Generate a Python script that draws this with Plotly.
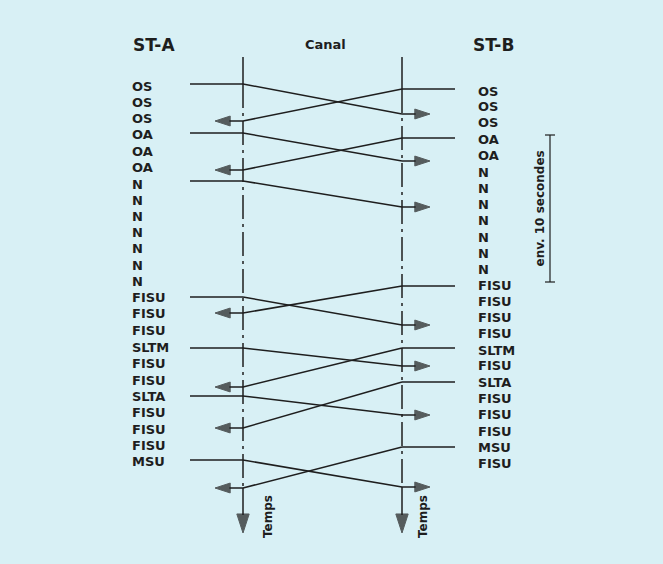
import plotly.graph_objects as go

# ---------------- data (times, in pixel-like time units) ----------------
labels_A = ["OS", "OS", "OS", "OA", "OA", "OA", "N", "N", "N", "N", "N", "N", "N",
            "FISU", "FISU", "FISU", "SLTM", "FISU", "FISU", "SLTA", "FISU", "FISU", "FISU", "MSU"]
times_A = [86, 102, 118, 134, 151, 167, 184, 200, 216, 232, 248, 265, 281,
           297, 313, 330, 347, 363, 380, 396, 412, 429, 445, 461]

labels_B = ["OS", "OS", "OS", "OA", "OA", "N", "N", "N", "N", "N", "N", "N",
            "FISU", "FISU", "FISU", "FISU", "SLTM", "FISU", "SLTA", "FISU", "FISU", "FISU", "MSU", "FISU"]
times_B = [91, 106, 122, 139, 155, 172, 188, 204, 220, 237, 253, 269,
           285, 301, 317, 333, 350, 365, 382, 398, 414, 431, 447, 463]

# messages A -> B : send time, receive time
ab_send = [84, 133, 181, 297, 348, 396, 460]
ab_recv = [114, 161, 207, 325, 366, 415, 487]
# messages B -> A : send time, receive time
ba_send = [89, 138, 286, 348, 382, 447]
ba_recv = [121, 170, 313, 387, 428, 488]

bracket_start, bracket_end = 135, 282
time_top, time_end = 57, 533

# ---------------- layout constants ----------------
W, H = 663, 564
XA, XB = 243, 402          # lanes
XA_OUT, XB_OUT = 190, 455  # outer start of message lines
XA_TIP, XB_TIP = 215, 430  # arrow tips
LBL_A, LBL_B = 130, 476
BR_X = 550

INK = "#1e1e1e"
BG = "#d8f0f5"
FONT = "DejaVu Sans, Verdana, sans-serif"
LW = 1.5

fig = go.Figure()

def msg(xs, ys):
    n = len(xs)
    fig.add_trace(go.Scatter(
        x=xs, y=ys, mode="lines+markers",
        line=dict(color=INK, width=LW),
        marker=dict(symbol="arrow", size=[0] * (n - 1) + [16], color=INK,
                    angleref="previous", line=dict(width=1, color=INK)),
        hoverinfo="skip", showlegend=False))

for s, r in zip(ab_send, ab_recv):
    msg([XA_OUT, XA, XB, XB_TIP], [s, s, r, r])
for s, r in zip(ba_send, ba_recv):
    msg([XB_OUT, XB, XA, XA_TIP], [s, s, r, r])

# lanes
def lane(x, events):
    first, last = min(events), max(events)
    fig.add_trace(go.Scatter(x=[x, x], y=[time_top, first], mode="lines",
                             line=dict(color=INK, width=LW), hoverinfo="skip", showlegend=False))
    fig.add_trace(go.Scatter(x=[x, x], y=[first, last], mode="lines",
                             line=dict(color=INK, width=LW, dash="24px,5px,3px,5px"),
                             hoverinfo="skip", showlegend=False))
    fig.add_trace(go.Scatter(x=[x, x], y=[last, time_end], mode="lines+markers",
                             line=dict(color=INK, width=LW),
                             marker=dict(symbol="arrow", size=[0, 20], color=INK,
                                         angleref="previous", line=dict(width=1, color=INK)),
                             hoverinfo="skip", showlegend=False))

lane(XA, ab_send + ba_recv)
lane(XB, ba_send + ab_recv)

# bracket "env. 10 secondes"
fig.add_trace(go.Scatter(x=[BR_X, BR_X], y=[bracket_start, bracket_end], mode="lines",
                         line=dict(color=INK, width=1.2), hoverinfo="skip", showlegend=False))
for yb in (bracket_start, bracket_end):
    fig.add_trace(go.Scatter(x=[BR_X - 5, BR_X + 5], y=[yb, yb], mode="lines",
                             line=dict(color=INK, width=1.2), hoverinfo="skip", showlegend=False))

ann = []
def txt(x, y, t, size=13, xanchor="left", angle=0):
    ann.append(dict(x=x, y=y, text=t, showarrow=False, xanchor=xanchor, yanchor="middle",
                    textangle=angle, xref="x", yref="y",
                    font=dict(family=FONT, size=size, color=INK, weight="bold")))

for t, y in zip(labels_A, times_A):
    txt(LBL_A, y, t)
for t, y in zip(labels_B, times_B):
    txt(LBL_B, y, t)

txt(154, 45, "ST-A", size=17, xanchor="center")
txt(325, 44, "Canal", size=13, xanchor="center")
txt(493, 45, "ST-B", size=17, xanchor="center")
txt(268, 517, "Temps", size=12, xanchor="center", angle=-90)
txt(423, 517, "Temps", size=12, xanchor="center", angle=-90)
txt(539, (bracket_start + bracket_end) / 2, "env. 10 secondes", size=12, xanchor="center", angle=-90)

fig.update_layout(
    width=W, height=H, margin=dict(l=0, r=0, t=0, b=0),
    paper_bgcolor=BG, plot_bgcolor=BG,
    xaxis=dict(range=[0, W], visible=False, fixedrange=True),
    yaxis=dict(range=[H, 0], visible=False, fixedrange=True),
    annotations=ann, showlegend=False,
)

fig.write_html("out.html", config={"displayModeBar": False},
               post_script="document.body.style.margin='0';document.body.style.background='%s';" % BG)
